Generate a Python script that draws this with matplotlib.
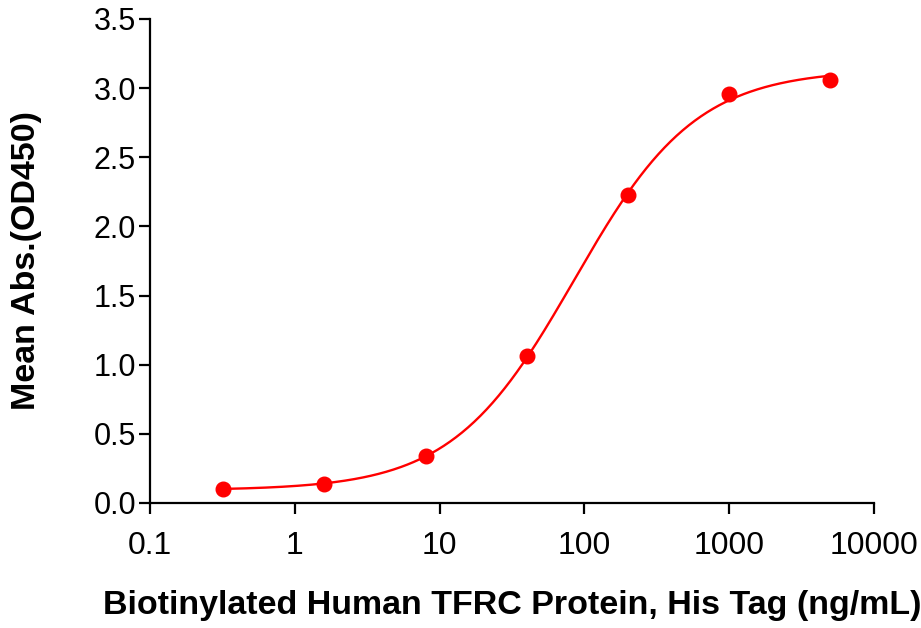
import numpy as np
import matplotlib
matplotlib.use('Agg')
import matplotlib.pyplot as plt
from matplotlib.ticker import FixedLocator, FixedFormatter, NullLocator

# data
conc = [0.32, 1.6, 8, 40, 200, 1000, 5000]          # ng/mL
od450 = [0.10, 0.137, 0.34, 1.06, 2.225, 2.955, 3.06]
xticks = [0.1, 1, 10, 100, 1000, 10000]
xticklabels = ['0.1', '1', '10', '100', '1000', '10000']
yticks = [0.0, 0.5, 1.0, 1.5, 2.0, 2.5, 3.0, 3.5]

RED = '#ff0000'


def fit_4pl(x, y):
    # brute force over ec50 / hill, bottom and span solved linearly
    x = np.asarray(x, float)
    y = np.asarray(y, float)
    best = None
    for lec in np.linspace(0.5, 3.5, 301):
        for h in np.linspace(0.3, 3.0, 271):
            s = 1.0 / (1.0 + (10 ** lec / x) ** h)
            A = np.column_stack([np.ones_like(s), s])
            coef, *_ = np.linalg.lstsq(A, y, rcond=None)
            err = np.sum((A @ coef - y) ** 2)
            if best is None or err < best[0]:
                best = (err, coef[0], coef[0] + coef[1], 10 ** lec, h)
    return best[1:]


bottom, top, ec50, hill = fit_4pl(conc, od450)
xs = np.logspace(np.log10(conc[0]), np.log10(conc[-1]), 400)
ys = bottom + (top - bottom) / (1.0 + (ec50 / xs) ** hill)

plt.rcParams['font.family'] = ['Liberation Sans', 'DejaVu Sans']

fig = plt.figure(figsize=(9.21, 6.28), dpi=100)
ax = fig.add_axes([150 / 921, 125 / 628, 724 / 921, 484 / 628])

ax.plot(xs, ys, color=RED, lw=1.7, zorder=3)
ax.plot(conc, od450, 'o', color=RED, ms=10.5, zorder=4, clip_on=False)

ax.set_xscale('log')
ax.set_xlim(0.1, 10000)
ax.set_ylim(0, 3.5)
ax.xaxis.set_major_locator(FixedLocator(xticks))
ax.xaxis.set_major_formatter(FixedFormatter(xticklabels))
ax.xaxis.set_minor_locator(NullLocator())
ax.set_yticks(yticks)
ax.set_yticklabels([f'{v:.1f}' for v in yticks])

for side in ['top', 'right']:
    ax.spines[side].set_visible(False)
for side in ['left', 'bottom']:
    ax.spines[side].set_linewidth(1.6)
ax.tick_params(axis='both', direction='out', length=8, width=1.6,
               colors='black')
ax.tick_params(axis='x', pad=12, labelsize=23)
ax.tick_params(axis='y', pad=2, labelsize=22)

ax.set_xlabel('Biotinylated Human TFRC Protein, His Tag (ng/mL)',
              fontsize=24.5, fontweight='bold', va='top')
ax.xaxis.set_label_coords(0.5, (503 - 590) / 484)
ax.set_ylabel('Mean Abs.(OD450)', fontsize=24.5, fontweight='bold')
ax.yaxis.set_label_coords((42 - 150) / 724, 0.5)

fig.savefig('out.png', dpi=100)
